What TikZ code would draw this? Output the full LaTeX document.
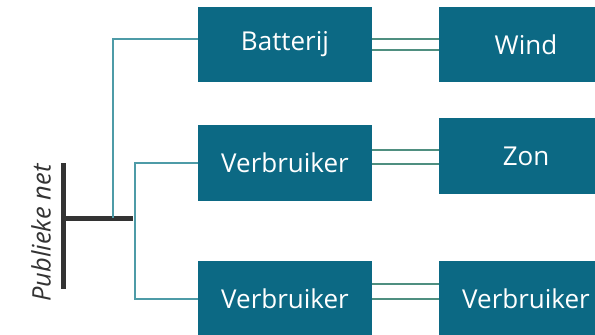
\documentclass[tikz,border=0pt]{standalone}
\usepackage{fontspec}
\setmainfont{Open Sans}
\definecolor{boxfill}{HTML}{0C6984}
\definecolor{tealline}{HTML}{4E9BA7}
\definecolor{greenline}{HTML}{4F8F80}
\definecolor{bargrey}{HTML}{333333}
\tikzset{
  blok/.style={rectangle, fill=boxfill, text=white, minimum width=174pt, minimum height=75pt, inner sep=0pt, font=\fontsize{26}{28}\selectfont},
  link/.style={draw=tealline, line width=1.1pt},
  duo/.style={draw=greenline, line width=1.1pt},
  bar/.style={draw=bargrey, line width=5pt}
}
\begin{document}
\begin{tikzpicture}[x=1pt,y=-1pt]
\useasboundingbox (0,0) rectangle (595,335);
\node[blok] (bat) at (285,44.5) {Batterij};
\node[blok] (wind) at (526,44.5) {Wind};
\node[blok, minimum height=76pt] (v2) at (285,163) {Verbruiker};
\node[blok, minimum height=76pt] (zon) at (526,156) {Zon};
\node[blok, minimum height=76pt] (v3) at (285,299) {Verbruiker};
\node[blok, minimum height=76pt] (v4) at (526,299) {Verbruiker};
% publieke net
\coordinate (vtop) at (63,163);
\coordinate (vbot) at (63,289);
\coordinate (hl) at (63,218);
\coordinate (hr) at (133,218);
\coordinate (tap1) at (113,218);
\coordinate (tap2) at (135,163);
\coordinate (tap3) at (135,299);
\draw[bar] (vtop) -- (vbot);
\draw[bar] (hl) -- (hr);
\node[rotate=90, text=bargrey, font=\fontsize{25.5}{27}\itshape] (pn) at (41,233) {Publieke net};
% teal links
\draw[link] (tap1) |- (bat.west |- 0,39);
\draw[link] (tap2 |- hr) -- (tap2) -- (v2.west);
\draw[link] (tap2 |- hr) -- (tap3) -- (v3.west);
% double links
\draw[duo] (bat.east |- 0,39) -- (wind.west |- 0,39);
\draw[duo] (bat.east |- 0,50) -- (wind.west |- 0,50);
\draw[duo] (v2.east |- 0,150) -- (zon.west |- 0,150);
\draw[duo] (v2.east |- 0,164) -- (zon.west |- 0,164);
\draw[duo] (v3.east |- 0,284) -- (v4.west |- 0,284);
\draw[duo] (v3.east |- 0,299) -- (v4.west |- 0,299);
\end{tikzpicture}
\end{document}
